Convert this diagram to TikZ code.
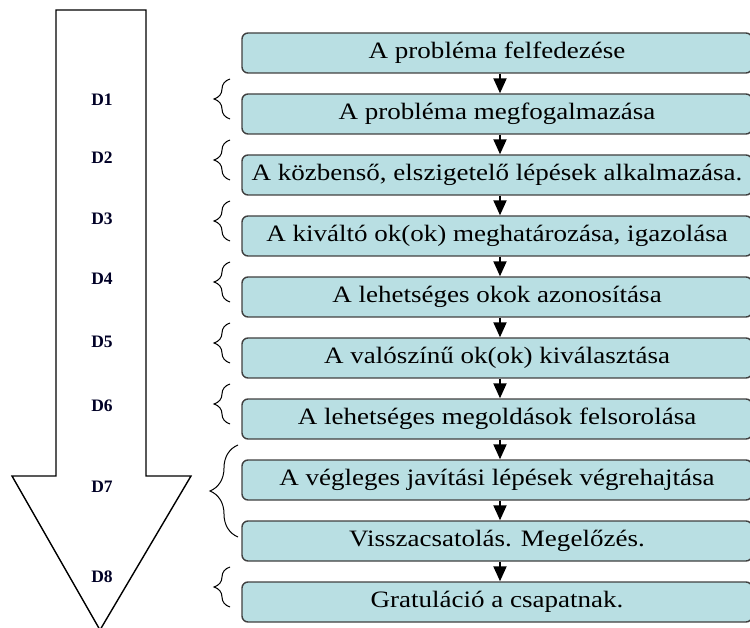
\documentclass[tikz,border=0pt]{standalone}
\usepackage{fontspec}
\setmainfont[FakeStretch=1.15]{Liberation Serif}
\newfontfamily\dbetu{Liberation Serif}
\usetikzlibrary{arrows.meta, decorations.pathreplacing, calc}

\definecolor{lepeskek}{RGB}{185,223,227}
\definecolor{keret}{RGB}{64,64,64}

\tikzset{
  lepes/.style={draw=keret, fill=lepeskek, line width=1.4pt, rounded corners=6pt,
    minimum width=510pt, minimum height=40pt, inner sep=0pt,
    font=\fontsize{23.5}{23.5}\selectfont},
  dcimke/.style={font=\dbetu\bfseries\fontsize{17.5}{17.5}\selectfont, text=black!85!blue},
  kapocs/.style={decorate, decoration={brace, amplitude=16pt}, line width=1pt},
  nyil/.style={-{Triangle[width=13pt, length=15pt]}, line width=2pt}
}

\begin{document}
\begin{tikzpicture}[x=1pt, y=-1pt]
      % Frame of the picture
      \clip (0,0) rectangle (750,628);

      % Big arrow on the left
      \draw[line width=1.4pt, fill=white] (56,10) -- (146,10) -- (146,476) -- (191,476)
        -- (100,630) -- (12,476) -- (56,476) -- cycle;

      % Steps
      \node[lepes] (l1)  at (497,53)  {A probléma felfedezése};
      \node[lepes] (l2)  at (497,114) {A probléma megfogalmazása};
      \node[lepes] (l3)  at (497,175) {A közbenső, elszigetelő lépések alkalmazása.};
      \node[lepes] (l4)  at (497,236) {A kiváltó ok(ok) meghatározása, igazolása};
      \node[lepes] (l5)  at (497,297) {A lehetséges okok azonosítása};
      \node[lepes] (l6)  at (497,358) {A valószínű ok(ok) kiválasztása};
      \node[lepes] (l7)  at (497,419) {A lehetséges megoldások felsorolása};
      \node[lepes] (l8)  at (497,480) {A végleges javítási lépések végrehajtása};
      \node[lepes] (l9)  at (497,541) {Visszacsatolás. Megelőzés.};
      \node[lepes] (l10) at (497,602) {Gratuláció a csapatnak.};

      % Arrows between the steps
      \foreach \a/\b in {1/2, 2/3, 3/4, 4/5, 5/6, 6/7, 7/8, 8/9, 9/10}
        \draw[nyil] (l\a.south -| 500,0) -- (l\b.north -| 500,0);

      % D labels
      \node[dcimke] (d1) at (102,100) {D1};
      \node[dcimke] (d2) at (102,158) {D2};
      \node[dcimke] (d3) at (102,219) {D3};
      \node[dcimke] (d4) at (102,279) {D4};
      \node[dcimke] (d5) at (102,342) {D5};
      \node[dcimke] (d6) at (102,406) {D6};
      \node[dcimke] (d7) at (102,487) {D7};
      \node[dcimke] (d8) at (102,577) {D8};

      % Braces
      \foreach \k in {2,...,7}
        \draw[kapocs] ($(l\k.center)+(-267,5)$) -- ($(l\k.center)+(-267,-35)$);
      \draw[kapocs, decoration={amplitude=28pt}] (238,537) -- (238,445);
      \draw[kapocs] ($(l10.center)+(-267,5)$) -- ($(l10.center)+(-267,-35)$);
\end{tikzpicture}
\end{document}
